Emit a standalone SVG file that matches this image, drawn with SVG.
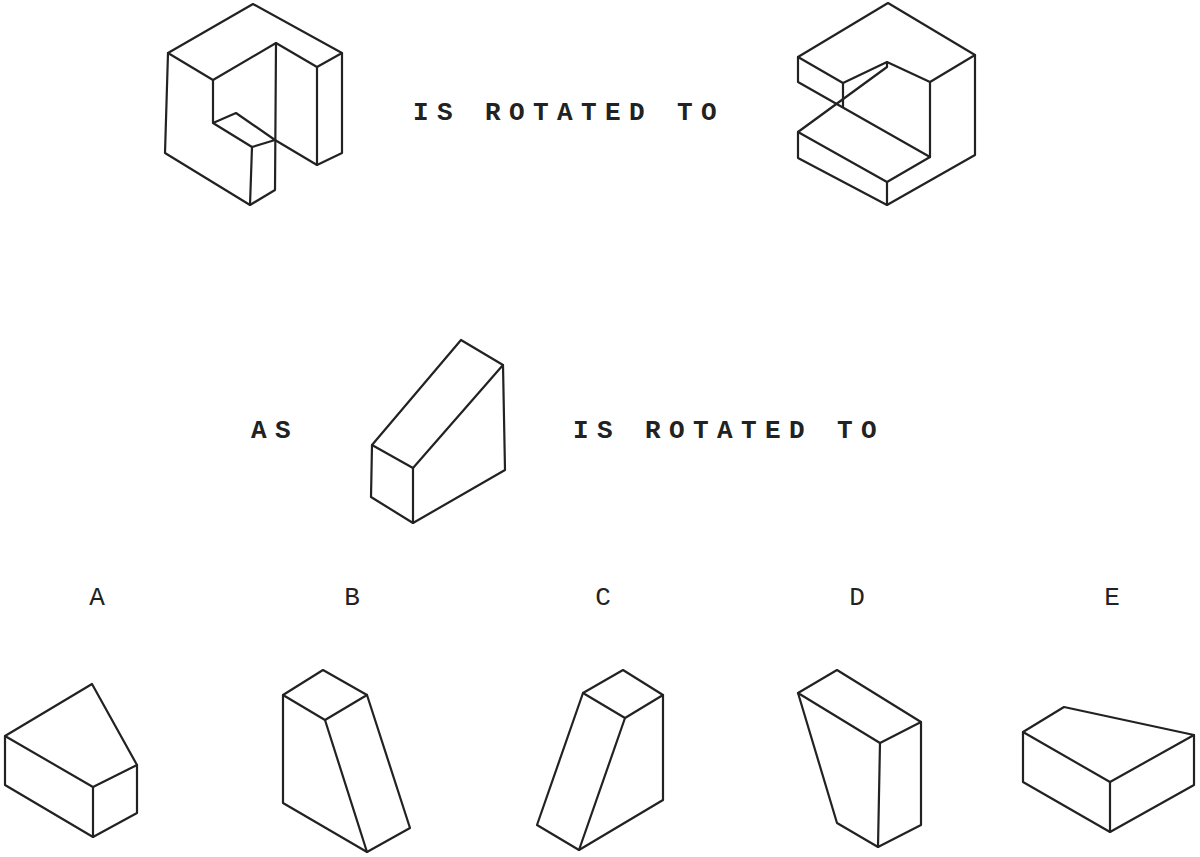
<svg xmlns="http://www.w3.org/2000/svg" width="1200" height="857" viewBox="0 0 1200 857">
<style>
.s{fill:none;stroke:#222;stroke-width:2.2;stroke-linejoin:round;stroke-linecap:round}
.t{font-family:"Liberation Mono",monospace;font-size:26px;fill:#222;letter-spacing:8.4px;font-weight:bold}
.l{font-family:"Liberation Mono",monospace;font-size:26px;fill:#222;text-anchor:middle}
</style>
<rect width="1200" height="857" fill="#fff"/>
<g id="fig1" class="s">
<path d="M253,4 L168,53 L213,80 L276,43 L317,67 L342,53 Z"/>
<path d="M168,53 L165,153 L250,205 L275,190 L276,43"/>
<path d="M213,80 L213,123 L252,147 L275,140 L236,113 L213,123"/>
<path d="M252,147 L250,205"/>
<path d="M275,140 L317,165 L342,153 L342,53"/>
<path d="M317,67 L317,165"/>
</g>
<text class="t" x="413" y="120">IS ROTATED TO</text>
<g id="fig2" class="s">
<path d="M888,3 L798,57 L843,83 L887,62 L930,82 L975,55 Z"/>
<path d="M798,57 L798,82 L930,157 L930,82"/>
<path d="M843,83 L843,107"/>
<path d="M887,62 L887,67 L798,132 L798,158 L887,205 L975,155 L975,55"/>
<path d="M798,132 L887,182 L930,157"/>
<path d="M887,182 L887,205"/>
</g>
<text class="t" x="251" y="438">AS</text>
<g id="fig3" class="s">
<path d="M372,445 L461,340 L503,365 L413,468 Z"/>
<path d="M372,445 L371,497 L413,523 L505,470 L503,365"/>
<path d="M413,468 L413,523"/>
</g>
<text class="t" x="573" y="438">IS ROTATED TO</text>
<text class="l" x="97" y="605">A</text>
<text class="l" x="352" y="605">B</text>
<text class="l" x="603" y="605">C</text>
<text class="l" x="857" y="605">D</text>
<text class="l" x="1112" y="605">E</text>
<g id="optA" class="s">
<path d="M5,736 L92,684 L137,765 L93,787 Z"/>
<path d="M5,736 L5,785 L93,837 L137,813 L137,765"/>
<path d="M93,787 L93,837"/>
</g>
<g id="optB" class="s">
<path d="M283,695 L323,670 L367,695 L325,720 Z"/>
<path d="M283,695 L283,803 L367,852 L410,828 L367,695"/>
<path d="M325,720 L367,852"/>
</g>
<g id="optC" class="s">
<path d="M583,693 L623,670 L663,695 L625,718 Z"/>
<path d="M583,693 L537,825 L579,850 L663,800 L663,695"/>
<path d="M625,718 L579,850"/>
</g>
<g id="optD" class="s">
<path d="M798,693 L837,670 L921,722 L880,743 Z"/>
<path d="M798,693 L837,823 L878,847 L921,825 L921,722"/>
<path d="M880,743 L878,847"/>
</g>
<g id="optE" class="s">
<path d="M1023,732 L1064,707 L1194,735 L1110,782 Z"/>
<path d="M1023,732 L1023,782 L1110,832 L1194,785 L1194,735"/>
<path d="M1110,782 L1110,832"/>
</g>
</svg>
